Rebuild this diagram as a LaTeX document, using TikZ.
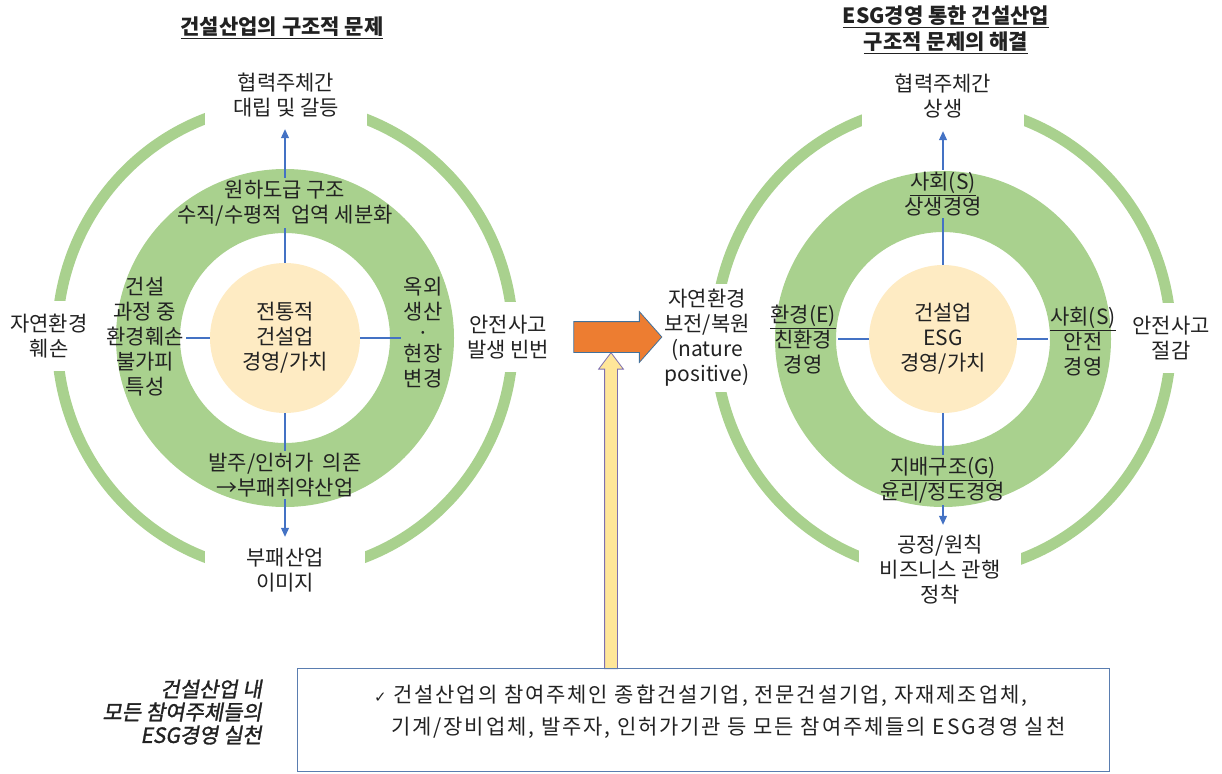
\documentclass[tikz,border=0pt]{standalone}
\usepackage{fontspec}
\setmainfont{Noto Sans CJK KR}
\newfontfamily\kritfont[FakeSlant=0.18,FakeBold=1.4]{Noto Sans CJK KR}
\newfontfamily\boxfont[LetterSpace=9]{Noto Sans CJK KR}
\newfontfamily\dejavu{DejaVu Sans}
\usetikzlibrary{arrows.meta,shapes.arrows,calc}
\pgfdeclarelayer{bg}
\pgfsetlayers{bg,main}
\definecolor{ringgreen}{HTML}{A9D18E}
\definecolor{coreyel}{HTML}{FEEBC3}
\definecolor{linkblue}{HTML}{4472C4}
\definecolor{txt}{HTML}{222222}
\definecolor{arrorange}{HTML}{ED7D31}
\definecolor{arroutline}{HTML}{41719C}
\definecolor{arryellow}{HTML}{FFE699}
\definecolor{youtline}{HTML}{7E6FB0}
\definecolor{boxline}{HTML}{5A7DB0}
\begin{document}
\begin{tikzpicture}[x=1pt,y=-1pt,
  every node/.style={text=txt, inner sep=2pt, align=center},
  ringtxt/.style={font=\fontsize{21}{25}\selectfont},
  outlbl/.style={font=\fontsize{21}{25}\selectfont, fill=white, inner sep=0pt},
  core/.style={circle, fill=coreyel, minimum size=150pt, inner sep=0pt, font=\fontsize{21}{25}\selectfont},
  titletxt/.style={font=\fontsize{21}{26}\selectfont\bfseries},
  link/.style={draw=linkblue, line width=1.1pt},
  linkarr/.style={link, -{Triangle[length=9pt,width=8pt]}},
  ringband/.style={fill=ringgreen, even odd rule},
  outerring/.style={draw=ringgreen, line width=11pt}]
\path[use as bounding box] (0,0) rectangle (1222,773);

% ---------- left diagram ----------
\node[titletxt] (Ltitle) at (282,28) {\underline{건설산업의 구조적 문제}};
\node[core] (Lc) at (285,338) {전통적\\건설업\\경영/가치};
\node[ringtxt] (Lt) at (285,203) {원하도급 구조\\수직/수평적\ \ 업역 세분화};
\node[ringtxt] (Ll) at (145,337) {건설\\과정 중\\환경훼손\\불가피\\특성};
\node[ringtxt] (Lr) at (423,333) {옥외\\생산\\[-4pt]·\\[-4pt]현장\\변경};
\node[ringtxt] (Lb) at (285,475) {발주/인허가\ \ 의존\\→부패취약산업};
\node[outlbl, minimum width=162pt, minimum height=68pt] (LT) at (286,95) {협력주체간\\대립 및 갈등};
\node[outlbl, minimum width=160pt, minimum height=66pt] (LB) at (285,570) {부패산업\\이미지};
\node[outlbl, minimum height=70pt, inner xsep=3pt] (LL) at (49,336) {자연환경\\훼손};
\node[outlbl, minimum height=70pt, inner xsep=3pt] (LR) at (508,337) {안전사고\\발생 빈번};

\draw[link] (Lc.north) -- (Lc.north |- Lt.south);
\draw[linkarr] (Lc.north |- Lt.north) -- (Lc.north |- LT.south);
\draw[link] (Lc.south) -- (Lc.south |- Lb.north);
\draw[linkarr] (Lc.south |- Lb.south) -- (Lc.south |- LB.north);
\draw[link] (Lc.west) -- (Lc.west -| Ll.east);
\draw[link] (Lc.east) -- (Lc.east -| Lr.west);

% ---------- right diagram ----------
\node[titletxt] (Rtitle) at (946,30) {\underline{ESG경영 통한 건설산업}\\\underline{구조적 문제의 해결}};
\node[core, minimum size=148pt] (Rc) at (943,339) {건설업\\ESG\\경영/가치};
\node[ringtxt] (Rt) at (943,194) {\underline{사회(S)}\\상생경영};
\node[ringtxt] (Rl) at (803,340) {\underline{환경(E)}\\친환경\\경영};
\node[ringtxt] (Rr) at (1083,342) {\underline{사회(S)}\\안전\\경영};
\node[ringtxt] (Rb) at (943,480) {\underline{지배구조(G)}\\윤리/정도경영};
\node[outlbl, minimum width=162pt, minimum height=70pt] (RT) at (943,96) {협력주체간\\상생};
\node[outlbl, minimum width=162pt, minimum height=90pt] (RB) at (940,570) {공정/원칙\\비즈니스 관행\\정착};
\node[outlbl, minimum height=108pt, inner xsep=3pt] (RL) at (707,338) {자연환경\\보전/복원\\(nature\\positive)};
\node[outlbl, minimum height=70pt, inner xsep=3pt] (RR) at (1171,338) {안전사고\\절감};

\draw[link] (Rc.north) -- (Rc.north |- Rt.south);
\draw[linkarr] (Rc.north |- Rt.north) -- (Rc.north |- RT.south);
\draw[link] (Rc.south) -- (Rc.south |- Rb.north);
\draw[linkarr] (Rc.south |- Rb.south) -- (Rc.south |- RB.north);
\draw[link] (Rc.west) -- (Rc.west -| Rl.east);
\draw[link] (Rc.east) -- (Rc.east -| Rr.west);

% ---------- rings (behind) ----------
\begin{pgfonlayer}{bg}
  \path[ringband] (Lc.center) circle[radius=169pt] (Lc.center) circle[radius=105pt];
  \path[outerring] (Lc.center) ellipse[x radius=228pt, y radius=234pt];
  \path[ringband] (Rc.center) circle[radius=168pt] (Rc.center) circle[radius=107pt];
  \path[outerring] (Rc.center) ellipse[x radius=228pt, y radius=234pt];
\end{pgfonlayer}

% ---------- block arrows ----------
\node[single arrow, rotate=90, fill=arryellow, draw=youtline, line width=0.8pt,
      minimum height=316pt, inner xsep=0pt, inner ysep=6pt, single arrow head extend=6pt,
      single arrow tip angle=74, anchor=tip] (Yarr) at (611,352) {};
\node[single arrow, fill=arrorange, draw=arroutline, line width=0.8pt,
      minimum height=88pt, inner xsep=0pt, inner ysep=15pt, single arrow head extend=10pt,
      single arrow tip angle=97] (Oarr) at (611,337) {};

% ---------- bottom ----------
\node[draw=boxline, line width=1pt, minimum width=812pt, minimum height=103pt,
      anchor=north west, inner sep=0pt] (Box) at (297,668) {};
\node[anchor=west, align=left, font=\boxfont\fontsize{21}{32}\selectfont] (Boxtxt) at (372,712)
  {{\dejavu\fontsize{15}{32}\selectfont ✓}\ 건설산업의 참여주체인 종합건설기업, 전문건설기업, 자재제조업체,\\
   \hspace*{17pt}기계/장비업체, 발주자, 인허가기관 등 모든 참여주체들의 ESG경영 실천};
\node[anchor=east, align=right, font=\kritfont\fontsize{21}{23}\selectfont] (Itext) at (264,712)
  {건설산업 내\\모든 참여주체들의\\ESG경영 실천};
\end{tikzpicture}
\end{document}
